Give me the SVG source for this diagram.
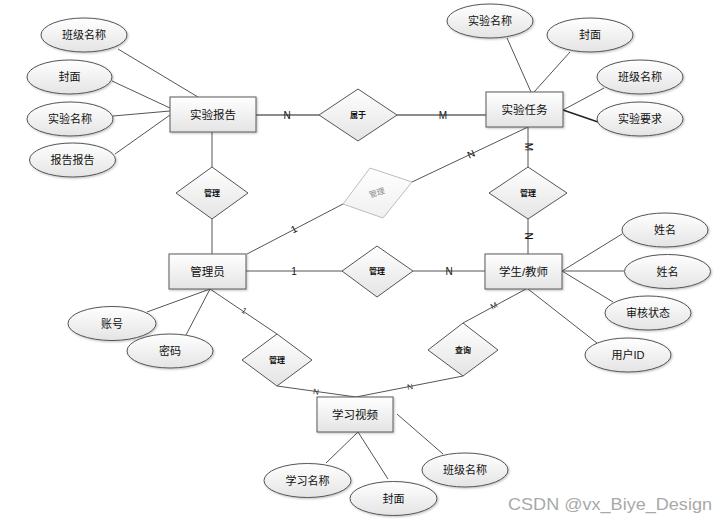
<svg xmlns="http://www.w3.org/2000/svg" width="727" height="525" viewBox="0 0 727 525">
<defs>
<linearGradient id="g" x1="0" y1="0" x2="0" y2="1">
<stop offset="0" stop-color="#ffffff"/>
<stop offset="1" stop-color="#e4e4e4"/>
</linearGradient>
<linearGradient id="gf" x1="0" y1="0" x2="0" y2="1">
<stop offset="0" stop-color="#ffffff"/>
<stop offset="1" stop-color="#f0f0f0"/>
</linearGradient>
<filter id="sh" x="-20%" y="-20%" width="140%" height="140%">
<feDropShadow dx="1" dy="1" stdDeviation="0.8" flood-color="#000" flood-opacity="0.25"/>
</filter>
</defs>
<style>
.ent rect{fill:url(#g);stroke:#5a5a5a;stroke-width:1;filter:url(#sh)}
.attr ellipse{fill:url(#g);stroke:#555;stroke-width:1;filter:url(#sh)}
.rel polygon{fill:url(#g);stroke:#555;stroke-width:1}
.faded polygon{fill:url(#gf);stroke:#bdbdbd;stroke-width:1}
text{font-family:"Liberation Sans","Noto Sans CJK SC",sans-serif;text-anchor:middle;dominant-baseline:central;fill:#111}
.et{font-size:11.5px}
.at{font-size:11px}
.rt{font-size:8px;font-weight:bold}
.ft{font-size:8px;fill:#8a8a8a}
.card{font-size:10px;fill:#111}
.cs{font-size:8px;fill:#333}
.wm{font-size:17px;fill:#a9a9a9;text-anchor:start;dominant-baseline:auto}
#connectors line{stroke:#555;stroke-width:1}
#connectors line.thick{stroke:#8c8c8c;stroke-width:2}
</style>
<rect width="727" height="525" fill="#fff"/>
<g id="connectors">
<line x1="118" y1="49" x2="198" y2="97"/>
<line x1="112" y1="81" x2="170" y2="108"/>
<line x1="113" y1="116" x2="170" y2="111"/>
<line x1="115" y1="154" x2="170" y2="115"/>
<line class="thick" x1="256" y1="115" x2="319" y2="115"/>
<line class="thick" x1="397" y1="115" x2="486" y2="115"/>
<line x1="507" y1="38" x2="531" y2="92"/>
<line x1="570" y1="52" x2="534" y2="92"/>
<line x1="604" y1="88" x2="563" y2="110"/>
<line x1="563" y1="110" x2="598" y2="122" style="stroke:#222;stroke-width:1.4"/>
<line x1="212" y1="132" x2="212" y2="167"/>
<line x1="212" y1="219" x2="212" y2="254"/>
<line x1="528" y1="127" x2="528" y2="167"/>
<line x1="528" y1="219" x2="528" y2="254"/>
<line x1="247" y1="254" x2="343" y2="204"/>
<line x1="412" y1="182" x2="528" y2="127"/>
<line x1="246" y1="271" x2="342" y2="271"/>
<line x1="413" y1="271" x2="485" y2="271"/>
<line x1="562" y1="271" x2="622" y2="234"/>
<line x1="562" y1="271" x2="624" y2="271"/>
<line x1="562" y1="271" x2="613" y2="302"/>
<line x1="528" y1="289" x2="597" y2="343"/>
<line x1="210" y1="289" x2="147" y2="312"/>
<line x1="210" y1="289" x2="186" y2="335"/>
<line x1="210" y1="289" x2="277" y2="334"/>
<line x1="277" y1="386" x2="356" y2="397"/>
<line x1="526" y1="289" x2="463" y2="323"/>
<line x1="463" y1="376" x2="356" y2="397"/>
<line x1="358" y1="432" x2="326" y2="463"/>
<line x1="358" y1="432" x2="388" y2="479"/>
<line x1="397" y1="414" x2="443" y2="454"/>
<text class="card" x="287" y="115">N</text>
<text class="card" x="443" y="115">M</text>
<text class="card" x="528" y="147" transform="rotate(90 528 147)">M</text>
<text class="card" x="528" y="236" transform="rotate(90 528 236)">N</text>
<text class="card" x="471" y="154" transform="rotate(-25 471 154)">N</text>
<text class="card" x="294" y="229" transform="rotate(-27 294 229)">1</text>
<text class="card" x="294" y="271">1</text>
<text class="card" x="449" y="271">N</text>
<text class="cs" x="244" y="311" transform="rotate(34 244 311)">1</text>
<text class="cs" x="316" y="392" transform="rotate(8 316 392)">N</text>
<text class="cs" x="410" y="387" transform="rotate(-11 410 387)">N</text>
<text class="cs" x="494" y="306" transform="rotate(-28 494 306)">M</text>
</g>
<g id="e-report" class="ent"><rect x="170" y="97" width="86" height="35"/><text class="et" x="213" y="114.5">实验报告</text></g>
<g id="e-task" class="ent"><rect x="486" y="92" width="77" height="35"/><text class="et" x="524.5" y="109.5">实验任务</text></g>
<g id="e-admin" class="ent"><rect x="169" y="254" width="77" height="35"/><text class="et" x="207.5" y="271.5">管理员</text></g>
<g id="e-user" class="ent"><rect x="485" y="254" width="77" height="35"/><text class="et" x="523.5" y="271.5">学生/教师</text></g>
<g id="e-video" class="ent"><rect x="317" y="397" width="76" height="35"/><text class="et" x="355" y="414.5">学习视频</text></g>
<g id="r-belong" class="rel"><polygon points="319,115 358,89 397,115 358,141"/><text class="rt" x="358" y="115">属于</text></g>
<g id="r-manage1" class="rel"><polygon points="176,193 212,167 248,193 212,219"/><text class="rt" x="212" y="193">管理</text></g>
<g id="r-manage2" class="rel"><polygon points="489,193 528,167 567,193 528,219"/><text class="rt" x="528" y="193">管理</text></g>
<g id="r-manage3" class="rel"><polygon points="342,271 377,246 413,271 377,297"/><text class="rt" x="377" y="271">管理</text></g>
<g id="r-manage4" class="faded"><polygon points="343,204 370,168 412,182 383,218"/><text class="ft" x="377" y="193" transform="rotate(-18 377 193)">管理</text></g>
<g id="r-manage5" class="rel"><polygon points="242,360 277,334 312,360 277,386"/><text class="rt" x="277" y="360">管理</text></g>
<g id="r-query" class="rel"><polygon points="428,350 463,323 498,350 463,376"/><text class="rt" x="463" y="350">查询</text></g>
<g id="a-r-class" class="attr"><ellipse cx="84" cy="35" rx="43" ry="17"/><text class="at" x="84" y="35">班级名称</text></g>
<g id="a-r-cover" class="attr"><ellipse cx="69.5" cy="77" rx="42.5" ry="17"/><text class="at" x="69.5" y="77">封面</text></g>
<g id="a-r-name" class="attr"><ellipse cx="70" cy="119" rx="43" ry="17"/><text class="at" x="70" y="119">实验名称</text></g>
<g id="a-r-report" class="attr"><ellipse cx="72.5" cy="160" rx="43" ry="17"/><text class="at" x="72.5" y="160">报告报告</text></g>
<g id="a-t-name" class="attr"><ellipse cx="490" cy="21" rx="43" ry="17"/><text class="at" x="490" y="21">实验名称</text></g>
<g id="a-t-cover" class="attr"><ellipse cx="590" cy="35" rx="43" ry="17"/><text class="at" x="590" y="35">封面</text></g>
<g id="a-t-class" class="attr"><ellipse cx="640" cy="77" rx="43" ry="17"/><text class="at" x="640" y="77">班级名称</text></g>
<g id="a-t-req" class="attr"><ellipse cx="640" cy="119" rx="43" ry="17"/><text class="at" x="640" y="119">实验要求</text></g>
<g id="a-u-name1" class="attr"><ellipse cx="665" cy="230" rx="43" ry="17"/><text class="at" x="665" y="230">姓名</text></g>
<g id="a-u-name2" class="attr"><ellipse cx="667.5" cy="271.5" rx="43" ry="17"/><text class="at" x="667.5" y="271.5">姓名</text></g>
<g id="a-u-status" class="attr"><ellipse cx="648" cy="313" rx="43" ry="17"/><text class="at" x="648" y="313">审核状态</text></g>
<g id="a-u-id" class="attr"><ellipse cx="628" cy="355" rx="43" ry="17"/><text class="at" x="628" y="355">用户ID</text></g>
<g id="a-a-acct" class="attr"><ellipse cx="112" cy="323.5" rx="44" ry="17"/><text class="at" x="112" y="323.5">账号</text></g>
<g id="a-a-pwd" class="attr"><ellipse cx="170" cy="351" rx="43" ry="17"/><text class="at" x="170" y="351">密码</text></g>
<g id="a-v-name" class="attr"><ellipse cx="307.5" cy="480.5" rx="43.5" ry="17"/><text class="at" x="307.5" y="480.5">学习名称</text></g>
<g id="a-v-cover" class="attr"><ellipse cx="393.5" cy="498.5" rx="43.5" ry="17"/><text class="at" x="393.5" y="498.5">封面</text></g>
<g id="a-v-class" class="attr"><ellipse cx="465" cy="470" rx="43" ry="17"/><text class="at" x="465" y="470">班级名称</text></g>
<text class="wm" x="508" y="510" textLength="204" lengthAdjust="spacingAndGlyphs">CSDN @vx_Biye_Design</text>
</svg>
